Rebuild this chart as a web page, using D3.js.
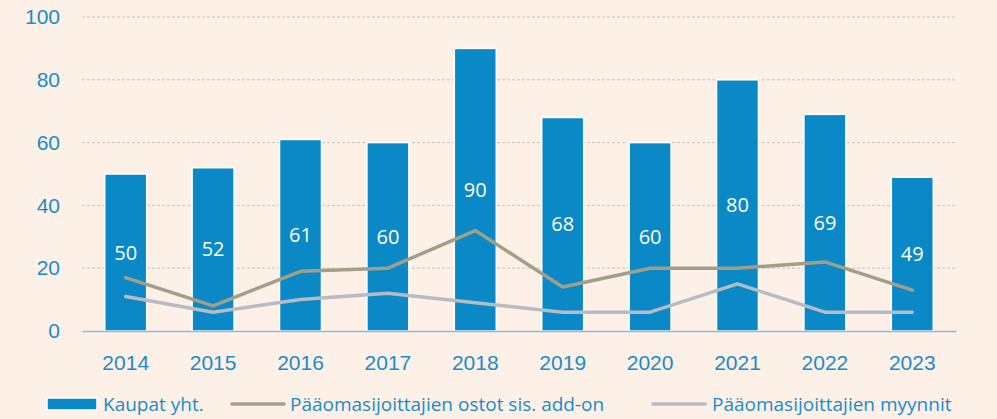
<!DOCTYPE html>
<html>
<head>
<meta charset="utf-8">
<script src="https://cdn.jsdelivr.net/npm/d3@7"></script>
<style>
  body { margin: 0; background: #fdf0e6; }
  svg { display: block; font-family: "Open Sans", "Noto Sans", sans-serif; }
</style>
</head>
<body>
<svg id="chart"></svg>
<script>
const years = ['2014','2015','2016','2017','2018','2019','2020','2021','2022','2023'];
const kaupat = [50, 52, 61, 60, 90, 68, 60, 80, 69, 49];
const ostot = [17, 8, 19, 20, 32, 14, 20, 20, 22, 13];
const myynnit = [11, 6, 10, 12, 9, 6, 6, 15, 6, 6];
const yTicks = [0, 20, 40, 60, 80, 100];
const seriesNames = ['Kaupat yht.', 'Pääomasijoittajien ostot sis. add-on', 'Pääomasijoittajien myynnit'];

const width = 997, height = 419;
const plotLeft = 82, plotRight = 956, plotTop = 17, plotBottom = 331;
const textColor = '#1a8ccb';
const barColor = '#0a89c6';
const ostotColor = '#a29f88';
const myynnitColor = '#b5bcc3';

const svg = d3.select('#chart')
  .attr('width', width)
  .attr('height', height);

svg.append('rect')
  .attr('width', width)
  .attr('height', height)
  .attr('fill', '#fdf0e6');

const x = d3.scaleBand()
  .domain(years)
  .range([plotLeft, plotRight])
  .paddingInner(0.52)
  .paddingOuter(0.26);

const y = d3.scaleLinear()
  .domain([0, 100])
  .range([plotBottom, plotTop]);

// gridlines
svg.append('g')
  .selectAll('line')
  .data(yTicks.filter(d => d > 0))
  .enter()
  .append('line')
  .attr('x1', plotLeft)
  .attr('x2', plotRight)
  .attr('y1', d => y(d))
  .attr('y2', d => y(d))
  .attr('stroke', '#c4c4c4')
  .attr('stroke-width', 1)
  .attr('stroke-dasharray', '3,2');

// y axis labels
let yAxis = d3.axisLeft(y)
  .tickValues(yTicks)
  .tickSize(0)
  .tickPadding(22);

svg.append('g')
  .attr('transform', `translate(${plotLeft},0)`)
  .call(yAxis)
  .call(g => g.select('.domain').remove())
  .selectAll('text')
  .attr('fill', textColor)
  .style('font-size', '21px');

// bars
svg.append('g')
  .selectAll('rect')
  .data(kaupat)
  .enter()
  .append('rect')
  .attr('x', (d, i) => x(years[i]))
  .attr('y', d => y(d))
  .attr('width', x.bandwidth())
  .attr('height', d => plotBottom - y(d))
  .attr('fill', barColor)
  .attr('stroke', '#ffffff')
  .attr('stroke-width', 1.5);

// bar value labels
svg.append('g')
  .selectAll('text')
  .data(kaupat)
  .enter()
  .append('text')
  .attr('x', (d, i) => x(years[i]) + x.bandwidth() / 2)
  .attr('y', d => (y(d) + plotBottom) / 2)
  .attr('dy', '0.35em')
  .attr('text-anchor', 'middle')
  .attr('fill', '#ffffff')
  .style('font-size', '20px')
  .text(d => d);

// x axis
let xAxis = d3.axisBottom(x)
  .tickSize(0)
  .tickPadding(24);

svg.append('g')
  .attr('transform', `translate(0,${plotBottom})`)
  .call(xAxis)
  .call(g => g.select('.domain')
    .attr('stroke', '#8fb8dc')
    .attr('stroke-width', 1.5))
  .selectAll('text')
  .attr('fill', textColor)
  .style('font-size', '21px');

// lines
const line = d3.line()
  .x((d, i) => x(years[i]) + x.bandwidth() / 2)
  .y(d => y(d));

svg.append('path')
  .datum(myynnit)
  .attr('d', line)
  .attr('fill', 'none')
  .attr('stroke', myynnitColor)
  .attr('stroke-width', 3.5)
  .attr('stroke-linejoin', 'round')
  .attr('stroke-linecap', 'round');

svg.append('path')
  .datum(ostot)
  .attr('d', line)
  .attr('fill', 'none')
  .attr('stroke', ostotColor)
  .attr('stroke-width', 3.5)
  .attr('stroke-linejoin', 'round')
  .attr('stroke-linecap', 'round');

// legend
const legendY = 404;
const legend = svg.append('g').style('font-size', '19px');

legend.append('rect')
  .attr('x', 47)
  .attr('y', legendY - 6)
  .attr('width', 50)
  .attr('height', 12)
  .attr('fill', barColor)
  .attr('stroke', '#ffffff')
  .attr('stroke-width', 1.5);

legend.append('text')
  .attr('x', 103)
  .attr('y', legendY)
  .attr('dy', '0.35em')
  .attr('fill', textColor)
  .text(seriesNames[0]);

[[232, 290, ostotColor, seriesNames[1]], [653, 712, myynnitColor, seriesNames[2]]].forEach(l => {
  legend.append('line')
    .attr('x1', l[0])
    .attr('x2', l[0] + 52)
    .attr('y1', legendY)
    .attr('y2', legendY)
    .attr('stroke', l[2])
    .attr('stroke-width', 3.5)
    .attr('stroke-linecap', 'round');
  legend.append('text')
    .attr('x', l[1])
    .attr('y', legendY)
    .attr('dy', '0.35em')
    .attr('fill', textColor)
    .text(l[3]);
});
</script>
</body>
</html>
